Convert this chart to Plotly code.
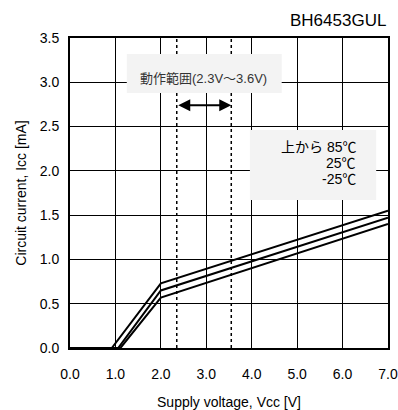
import plotly.graph_objects as go

# Data
series_names = ["85℃", "25℃", "-25℃"]
vcc_85 = [0.0, 0.92, 2.0, 7.0]
icc_85 = [0.0, 0.0, 0.73, 1.55]
vcc_25 = [0.0, 1.06, 2.0, 7.0]
icc_25 = [0.0, 0.0, 0.65, 1.47]
vcc_m25 = [0.0, 1.11, 2.0, 7.0]
icc_m25 = [0.0, 0.0, 0.57, 1.40]
range_lo = 2.35
range_hi = 3.55
x_ticks = [0, 1, 2, 3, 4, 5, 6, 7]
x_tick_labels = ["0.0", "1.0", "2.0", "3.0", "4.0", "5.0", "6.0", "7.0"]
y_ticks = [0, 0.5, 1.0, 1.5, 2.0, 2.5, 3.0, 3.5]
y_tick_labels = ["0.0", "0.5", "1.0", "1.5", "2.0", "2.5", "3.0", "3.5"]

FONT = "Liberation Sans, Arial, Noto Sans CJK JP, sans-serif"

fig = go.Figure()
for xs, ys, nm in [(vcc_85, icc_85, series_names[0]),
                   (vcc_25, icc_25, series_names[1]),
                   (vcc_m25, icc_m25, series_names[2])]:
    fig.add_trace(go.Scatter(x=xs, y=ys, mode="lines", name=nm,
                             line=dict(color="black", width=2),
                             showlegend=False, hoverinfo="skip"))

# dotted operating range lines
for xv in [range_lo, range_hi]:
    fig.add_shape(type="line", xref="x", yref="paper", x0=xv, x1=xv, y0=0, y1=1,
                  line=dict(color="black", width=1.5, dash="dot"), layer="above")

# box 1
fig.add_shape(type="rect", xref="x", yref="y", x0=1.25, x1=4.66, y0=2.88, y1=3.32,
              fillcolor="#f3f3f3", line=dict(width=0), layer="above")
fig.add_annotation(x=2.93, y=3.04, xref="x", yref="y", text="動作範囲(2.3V～3.6V)",
                   showarrow=False, font=dict(family=FONT, size=13, color="#333333"))

# arrow
fig.add_annotation(x=range_hi, y=2.74, ax=range_lo, ay=2.74, xref="x", yref="y",
                   axref="x", ayref="y", text="", showarrow=True,
                   arrowhead=2, startarrowhead=2, arrowside="end+start",
                   arrowwidth=2, arrowsize=1.2, startarrowsize=1.2, arrowcolor="black")

# box 2
fig.add_shape(type="rect", xref="x", yref="y", x0=3.96, x1=6.74, y0=1.67, y1=2.46,
              fillcolor="#f3f3f3", line=dict(width=0), layer="above")
legend_lines = ["上から " + series_names[0], series_names[1], series_names[2]]
legend_y = [2.265, 2.085, 1.905]
for t, yv in zip(legend_lines, legend_y):
    fig.add_annotation(x=6.33, y=yv, xref="x", yref="y", text=t, showarrow=False,
                       xanchor="right", yanchor="middle",
                       font=dict(family=FONT, size=14, color="black"))

# title top right
fig.add_annotation(x=1, y=1, xref="paper", yref="paper", text="BH6453GUL",
                   showarrow=False, xanchor="right", yanchor="bottom", yshift=6,
                   font=dict(family=FONT, size=17, color="black"))

fig.update_layout(
    width=398, height=410,
    margin=dict(l=70, r=10, t=38, b=62),
    paper_bgcolor="white", plot_bgcolor="white",
    font=dict(family=FONT, size=14, color="black"),
)
fig.update_xaxes(range=[0, 7], tickvals=x_ticks, ticktext=x_tick_labels,
                 showgrid=True, gridcolor="black", gridwidth=1,
                 showline=True, linecolor="black", linewidth=2, mirror=True,
                 ticks="", ticklabelstandoff=12, zeroline=False, automargin=False,
                 tickfont=dict(size=14),
                 title=dict(text="Supply voltage, Vcc [V]", standoff=16,
                            font=dict(size=14)))
fig.update_yaxes(range=[0, 3.5], tickvals=y_ticks, ticktext=y_tick_labels,
                 showgrid=True, gridcolor="black", gridwidth=1,
                 showline=True, linecolor="black", linewidth=2, mirror=True,
                 ticks="", ticklabelstandoff=6, zeroline=False, automargin=False,
                 tickfont=dict(size=14),
                 title=dict(text="Circuit current, Icc [mA]", standoff=10,
                            font=dict(size=14)))

fig.write_html("out.html")
